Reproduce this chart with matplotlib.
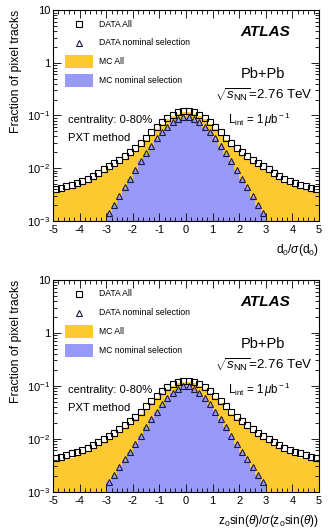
import numpy as np
import matplotlib
matplotlib.use('Agg')
import matplotlib.pyplot as plt
from matplotlib.ticker import FixedLocator, FixedFormatter, MultipleLocator, LogLocator, NullFormatter
from matplotlib.patches import Rectangle
from matplotlib.lines import Line2D

plt.rcParams['font.family'] = ['Liberation Sans', 'DejaVu Sans']
plt.rcParams['mathtext.fontset'] = 'custom'
plt.rcParams['mathtext.rm'] = 'Liberation Sans'
plt.rcParams['mathtext.it'] = 'Liberation Sans:italic'
plt.rcParams['axes.unicode_minus'] = False

# --- data: 50 bins of width 0.2 from -5 to 5 ---
bin_edges = np.linspace(-5, 5, 51)
bin_centers = np.round(np.arange(-4.9, 5.0, 0.2), 2)
nom_edges = np.linspace(-3, 3, 31)
nom_centers = np.round(np.arange(-2.9, 3.0, 0.2), 2)

# top panel: d0 / sigma(d0)
d0_data_all = [0.0040, 0.0043, 0.0046, 0.0049, 0.0052, 0.0057, 0.0063, 0.0071, 0.0081, 0.0096,
               0.0110, 0.0128, 0.0146, 0.0170, 0.0200, 0.0240, 0.0300, 0.0380, 0.0480, 0.0600,
               0.0750, 0.0900, 0.1040, 0.1150, 0.1230,
               0.1230, 0.1150, 0.1040, 0.0900, 0.0750, 0.0600, 0.0480, 0.0380, 0.0300, 0.0240,
               0.0200, 0.0170, 0.0146, 0.0128, 0.0110, 0.0096, 0.0081, 0.0071, 0.0063, 0.0057,
               0.0052, 0.0049, 0.0046, 0.0043, 0.0040]
d0_mc_all = [0.0034, 0.0036, 0.0039, 0.0042, 0.0045, 0.0049, 0.0054, 0.0061, 0.0070, 0.0082,
             0.0095, 0.0110, 0.0127, 0.0148, 0.0175, 0.0212, 0.0265, 0.0340, 0.0435, 0.0550,
             0.0690, 0.0840, 0.0975, 0.1080, 0.1150,
             0.1150, 0.1080, 0.0975, 0.0840, 0.0690, 0.0550, 0.0435, 0.0340, 0.0265, 0.0212,
             0.0175, 0.0148, 0.0127, 0.0110, 0.0095, 0.0082, 0.0070, 0.0061, 0.0054, 0.0049,
             0.0045, 0.0042, 0.0039, 0.0036, 0.0034]
d0_data_nom = [0.00144, 0.0020, 0.0030, 0.0044, 0.0063, 0.0093, 0.0137, 0.0192, 0.0268, 0.0369,
               0.0480, 0.0614, 0.0743, 0.0847, 0.0925,
               0.0925, 0.0847, 0.0743, 0.0614, 0.0480, 0.0369, 0.0268, 0.0192, 0.0137, 0.0093,
               0.0063, 0.0044, 0.0030, 0.0020, 0.00144]
d0_mc_nom = [0.0014, 0.0020, 0.0029, 0.0043, 0.0062, 0.0091, 0.0134, 0.0190, 0.0265, 0.0365,
             0.0478, 0.0612, 0.0745, 0.0850, 0.0930,
             0.0930, 0.0850, 0.0745, 0.0612, 0.0478, 0.0365, 0.0265, 0.0190, 0.0134, 0.0091,
             0.0062, 0.0043, 0.0029, 0.0020, 0.0014]

# bottom panel: z0 sin(theta) / sigma(z0 sin(theta))
z0_data_all = [0.0043, 0.0046, 0.0049, 0.0053, 0.0057, 0.0061, 0.0067, 0.0075, 0.0085, 0.0098,
               0.0113, 0.0131, 0.0152, 0.0180, 0.0215, 0.0262, 0.0325, 0.0410, 0.0515, 0.0640,
               0.0785, 0.0935, 0.1070, 0.1180, 0.1250,
               0.1250, 0.1180, 0.1070, 0.0935, 0.0785, 0.0640, 0.0515, 0.0410, 0.0325, 0.0262,
               0.0215, 0.0180, 0.0152, 0.0131, 0.0113, 0.0098, 0.0085, 0.0075, 0.0067, 0.0061,
               0.0057, 0.0053, 0.0049, 0.0046, 0.0043]
z0_mc_all = [0.0036, 0.0038, 0.0041, 0.0044, 0.0048, 0.0052, 0.0057, 0.0064, 0.0073, 0.0085,
             0.0098, 0.0114, 0.0133, 0.0158, 0.0190, 0.0233, 0.0292, 0.0372, 0.0470, 0.0590,
             0.0730, 0.0880, 0.1010, 0.1120, 0.1190,
             0.1190, 0.1120, 0.1010, 0.0880, 0.0730, 0.0590, 0.0470, 0.0372, 0.0292, 0.0233,
             0.0190, 0.0158, 0.0133, 0.0114, 0.0098, 0.0085, 0.0073, 0.0064, 0.0057, 0.0052,
             0.0048, 0.0044, 0.0041, 0.0038, 0.0036]
z0_data_nom = [0.00155, 0.0021, 0.0029, 0.0041, 0.0057, 0.0080, 0.0115, 0.0165, 0.0235, 0.0325,
               0.0445, 0.0595, 0.0745, 0.0885, 0.0995,
               0.0995, 0.0885, 0.0745, 0.0595, 0.0445, 0.0325, 0.0235, 0.0165, 0.0115, 0.0080,
               0.0057, 0.0041, 0.0029, 0.0021, 0.00155]
z0_mc_nom = [0.0015, 0.0021, 0.0029, 0.0040, 0.0056, 0.0079, 0.0113, 0.0163, 0.0232, 0.0322,
             0.0442, 0.0592, 0.0745, 0.0888, 0.1000,
             0.1000, 0.0888, 0.0745, 0.0592, 0.0442, 0.0322, 0.0232, 0.0163, 0.0113, 0.0079,
             0.0056, 0.0040, 0.0029, 0.0021, 0.0015]

YELLOW = '#fdc931'
BLUE = '#9999fa'
MARK = '#1a1a40'
FS = 8
FS_LEG = 6.2


def draw_panel(ax, data_all, mc_all, data_nom, mc_nom, xlabel):
    ax.stairs(mc_all, bin_edges, baseline=1e-4, fill=True, color=YELLOW, lw=0)
    ax.stairs(mc_nom, nom_edges, baseline=1e-4, fill=True, color=BLUE, lw=0)
    ax.plot(bin_centers, data_all, ls='none', marker='s', ms=3.8, mfc='none', mec='black', mew=0.8)
    ax.plot(nom_centers, data_nom, ls='none', marker='^', ms=4.0, mfc='none', mec=MARK, mew=0.8)

    ax.set_yscale('log')
    ax.set_xlim(-5, 5)
    ax.set_ylim(1e-3, 10)
    ax.xaxis.set_major_locator(MultipleLocator(1))
    ax.xaxis.set_minor_locator(MultipleLocator(0.2))
    ax.yaxis.set_major_locator(FixedLocator([1e-3, 1e-2, 1e-1, 1, 10]))
    ax.yaxis.set_major_formatter(FixedFormatter([r'$10^{-3}$', r'$10^{-2}$', r'$10^{-1}$', '1', '10']))
    ax.yaxis.set_minor_locator(LogLocator(base=10, subs=np.arange(2, 10)))
    ax.yaxis.set_minor_formatter(NullFormatter())
    ax.tick_params(which='both', direction='in', top=True, right=True, labelsize=FS, width=0.6)
    ax.tick_params(which='major', length=6)
    ax.tick_params(which='minor', length=3)
    ax.tick_params(axis='x', pad=3)
    ax.tick_params(axis='y', pad=2)
    for s in ax.spines.values():
        s.set_linewidth(0.8)

    ax.set_ylabel('Fraction of pixel tracks', fontsize=8.8, loc='top', labelpad=4)
    ax.set_xlabel(xlabel, fontsize=8.6, loc='right', labelpad=5)

    # legend drawn by hand in axes coordinates
    ax.add_line(Line2D([0.098], [0.934], transform=ax.transAxes, ls='none', marker='s', ms=3.8,
                       mfc='none', mec='black', mew=0.8))
    ax.text(0.173, 0.934, 'DATA All', transform=ax.transAxes, fontsize=FS_LEG, va='center')
    ax.add_line(Line2D([0.098], [0.844], transform=ax.transAxes, ls='none', marker='^', ms=4.0,
                       mfc='none', mec=MARK, mew=0.8))
    ax.text(0.173, 0.844, 'DATA nominal selection', transform=ax.transAxes, fontsize=FS_LEG, va='center')
    ax.add_patch(Rectangle((0.045, 0.725), 0.105, 0.062, transform=ax.transAxes, color=YELLOW, lw=0))
    ax.text(0.173, 0.756, 'MC All', transform=ax.transAxes, fontsize=FS_LEG, va='center')
    ax.add_patch(Rectangle((0.045, 0.635), 0.105, 0.062, transform=ax.transAxes, color=BLUE, lw=0))
    ax.text(0.173, 0.666, 'MC nominal selection', transform=ax.transAxes, fontsize=FS_LEG, va='center')

    ax.text(0.891, 0.896, 'ATLAS', transform=ax.transAxes, fontsize=11, weight='bold',
            style='italic', ha='right', va='center')
    ax.text(0.872, 0.697, 'Pb+Pb', transform=ax.transAxes, fontsize=10.5, ha='right', va='center')
    ax.text(0.977, 0.597, r'$\sqrt{s_{\rm NN}}$=2.76 TeV', transform=ax.transAxes, fontsize=9.6,
            ha='right', va='center')
    ax.text(0.658, 0.479, r'L$_{\rm int}$ = 1$\,\mu$b$^{\rm -1}$', transform=ax.transAxes, fontsize=8.3,
            ha='left', va='center')
    ax.text(0.056, 0.479, 'centrality: 0-80%', transform=ax.transAxes, fontsize=8.1, va='center')
    ax.text(0.056, 0.393, 'PXT method', transform=ax.transAxes, fontsize=8.1, va='center')


fig = plt.figure(figsize=(3.31, 5.31), dpi=100)
ax1 = fig.add_axes([0.160, 0.584, 0.804, 0.397])
ax2 = fig.add_axes([0.160, 0.074, 0.804, 0.399])

draw_panel(ax1, d0_data_all, d0_mc_all, d0_data_nom, d0_mc_nom, r'd$_0$/$\sigma$(d$_0$)')
draw_panel(ax2, z0_data_all, z0_mc_all, z0_data_nom, z0_mc_nom,
           r'z$_0$sin($\theta$)/$\sigma$(z$_0$sin($\theta$))')

fig.savefig('out.png', dpi=100)
